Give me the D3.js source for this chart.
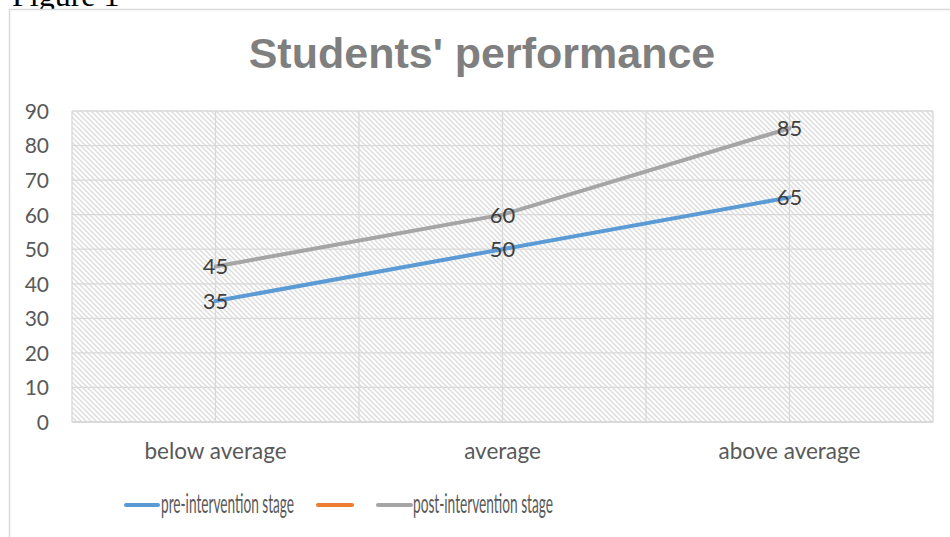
<!DOCTYPE html>
<html><head><meta charset="utf-8">
<script src="https://cdn.jsdelivr.net/npm/d3@7"></script>
<style>html,body{margin:0;padding:0;background:#fff;overflow:hidden}</style>
</head><body>
<svg id="c" width="950" height="537"></svg>
<script>
const categories = ["below average", "average", "above average"];
const preIntervention = [35, 50, 65];
const postIntervention = [45, 60, 85];
const emptySeries = [];
const yTicks = [0, 10, 20, 30, 40, 50, 60, 70, 80, 90];
const seriesNames = ["pre-intervention stage", "", "post-intervention stage"];
const seriesColors = ["#5b9bd5", "#ed7d31", "#a5a5a5"];
const titleText = "Students' performance";

(function () {
const svg = d3.select("#c");
const defs = svg.append("defs");
const pat = defs.append("pattern").attr("id", "hatch").attr("patternUnits", "userSpaceOnUse")
  .attr("width", 5).attr("height", 5);
pat.append("rect").attr("width", 5).attr("height", 5).attr("fill", "#fff");
pat.append("path").attr("d", "M-1,-1 L6,6 M-1,4 L1,6 M4,-1 L6,1")
  .attr("stroke", "#dcdcdc").attr("stroke-width", 1.4);

// Figure caption (cut off at the top, as in the reference)
svg.append("text").attr("x", 12).attr("y", 6).attr("font-family", "Liberation Serif, Times New Roman, serif")
  .attr("font-size", 32).attr("fill", "#000").text("Figure 1");

// chart frame
svg.append("rect").attr("x", 9.5).attr("y", 9.5).attr("width", 1000).attr("height", 1000)
  .attr("fill", "#fff").attr("stroke", "#d9d9d9").attr("stroke-width", 1.5);

// title
svg.append("text").attr("x", 482).attr("y", 68).attr("text-anchor", "middle")
  .attr("font-family", "Liberation Sans, Arial, sans-serif").attr("font-weight", "bold")
  .attr("font-size", 43).attr("fill", "#7f7f7f").text(titleText);

const pLeft = 72, pRight = 933, pTop = 111, pBottom = 422;
const x = d3.scaleBand().domain(categories).range([pLeft, pRight]).padding(0);
const y = d3.scaleLinear().domain([0, 90]).range([pBottom, pTop]);
const cx = d => x(d) + x.bandwidth() / 2;

// plot area hatch
svg.append("rect").attr("x", pLeft).attr("y", pTop).attr("width", pRight - pLeft).attr("height", pBottom - pTop)
  .attr("fill", "url(#hatch)");

// horizontal gridlines
svg.append("g").selectAll("line").data(yTicks).join("line")
  .attr("x1", pLeft).attr("x2", pRight).attr("y1", d => y(d)).attr("y2", d => y(d))
  .attr("stroke", "#d9d9d9").attr("stroke-width", 1.3);

// vertical gridlines at category boundaries and centers
const vlines = [];
categories.forEach(c => { vlines.push(x(c)); vlines.push(cx(c)); });
vlines.push(pRight);
svg.append("g").selectAll("line").data(vlines).join("line")
  .attr("x1", d => d).attr("x2", d => d).attr("y1", pTop).attr("y2", pBottom)
  .attr("stroke", "#d9d9d9").attr("stroke-width", 1.3);

// x axis line
svg.append("line").attr("x1", pLeft).attr("x2", pRight).attr("y1", pBottom).attr("y2", pBottom)
  .attr("stroke", "#d9d9d9").attr("stroke-width", 2);

// y axis labels
const yAxis = d3.axisLeft(y).tickValues(yTicks).tickSize(0).tickPadding(0);
const yg = svg.append("g").attr("transform", `translate(49,0)`).call(yAxis);
yg.select(".domain").remove();
yg.selectAll("text").attr("font-family", "Lato, sans-serif").attr("font-size", 21).attr("fill", "#595959")
  .attr("dy", "0.35em");

// x axis labels
const xAxis = d3.axisBottom(x).tickSize(0).tickPadding(0);
const xg = svg.append("g").call(xAxis);
xg.select(".domain").remove();
xg.selectAll(".tick").attr("transform", d => `translate(${cx(d)},459)`);
xg.selectAll("text").attr("y", 0).attr("dy", 0).attr("font-family", "Lato, sans-serif").attr("font-size", 22.5)
  .attr("fill", "#595959");

// lines
const line = d3.line().x((d, i) => cx(categories[i])).y(d => y(d));
const series = [preIntervention, emptySeries, postIntervention];
series.forEach((s, k) => {
  if (!s.length) return;
  svg.append("path").datum(s).attr("d", line).attr("fill", "none")
    .attr("stroke", seriesColors[k]).attr("stroke-width", 4).attr("stroke-linecap", "round");
});
// data labels
series.forEach((s, k) => {
  svg.append("g").selectAll("text").data(s).join("text")
    .attr("x", (d, i) => cx(categories[i])).attr("y", d => y(d)).attr("dy", "0.36em")
    .attr("text-anchor", "middle").attr("font-family", "Lato, sans-serif").attr("font-size", 22)
    .attr("fill", "#404040").text(d => d);
});

// legend
const legendItems = [
  {x1: 126, x2: 158, tx: 161, tw: 133},
  {x1: 318, x2: 352, tx: 356, tw: 0},
  {x1: 378, x2: 411, tx: 413, tw: 140}
];
legendItems.forEach((L, k) => {
  svg.append("line").attr("x1", L.x1).attr("x2", L.x2).attr("y1", 505).attr("y2", 505)
    .attr("stroke", seriesColors[k]).attr("stroke-width", 4).attr("stroke-linecap", "round");
  if (seriesNames[k]) {
    svg.append("text").attr("x", L.tx).attr("y", 513).attr("font-family", "Lato, sans-serif")
      .attr("font-size", 26).attr("fill", "#595959")
      .attr("textLength", L.tw).attr("lengthAdjust", "spacingAndGlyphs").text(seriesNames[k]);
  }
});
})();
</script>
</body></html>
